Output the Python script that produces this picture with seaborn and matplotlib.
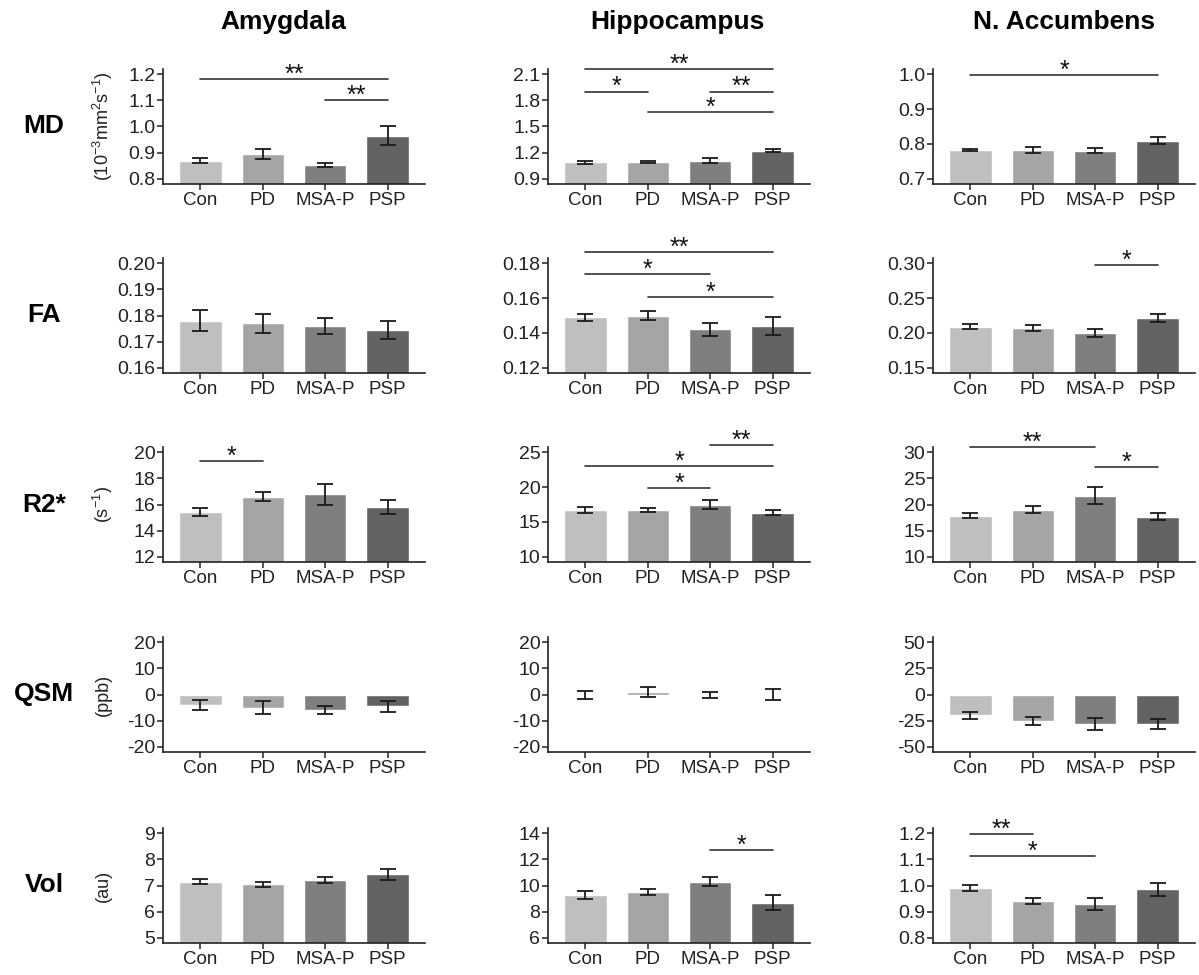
import pandas as pd
import seaborn as sns
import matplotlib
matplotlib.use("Agg")
import matplotlib.pyplot as plt

groups = ["Con", "PD", "MSA-P", "PSP"]
regions = ["Amygdala", "Hippocampus", "N. Accumbens"]
metrics = ["MD", "FA", "R2*", "QSM", "Vol"]
units = [r"(10$^{-3}$mm$^{2}$s$^{-1}$)", "", r"(s$^{-1}$)", "(ppb)", "(au)"]
palette = ["#bfbfbf", "#a5a5a5", "#7f7f7f", "#636363"]

# mean / SEM, one list per region: Amygdala, Hippocampus, N. Accumbens
md_mean = [[0.870, 0.895, 0.852, 0.965], [1.090, 1.095, 1.110, 1.225], [0.782, 0.782, 0.781, 0.809]]
md_sem = [[0.010, 0.020, 0.008, 0.035], [0.020, 0.015, 0.030, 0.020], [0.003, 0.008, 0.008, 0.010]]
fa_mean = [[0.178, 0.177, 0.176, 0.1745], [0.149, 0.150, 0.142, 0.144], [0.209, 0.207, 0.200, 0.221]]
fa_sem = [[0.004, 0.0035, 0.003, 0.0033], [0.002, 0.0025, 0.0035, 0.005], [0.004, 0.004, 0.006, 0.006]]
r2_mean = [[15.4, 16.6, 16.8, 15.8], [16.7, 16.7, 17.5, 16.3], [17.9, 19.0, 21.7, 17.7]]
r2_sem = [[0.3, 0.35, 0.8, 0.55], [0.4, 0.3, 0.6, 0.35], [0.4, 0.7, 1.6, 0.7]]
qsm_mean = [[-4.0, -5.0, -6.0, -4.5], [-0.2, 1.0, -0.1, 0.0], [-20.0, -25.0, -28.0, -28.0]]
qsm_sem = [[1.8, 2.5, 1.5, 2.2], [1.5, 1.8, 1.2, 2.0], [3.0, 4.0, 6.0, 5.0]]
vol_mean = [[7.15, 7.05, 7.22, 7.42], [9.3, 9.5, 10.3, 8.7], [0.99, 0.94, 0.93, 0.985]]
vol_sem = [[0.10, 0.10, 0.12, 0.20], [0.30, 0.25, 0.35, 0.60], [0.012, 0.012, 0.022, 0.025]]

# y tick labels per region
md_ticks = [["0.8", "0.9", "1.0", "1.1", "1.2"], ["0.9", "1.2", "1.5", "1.8", "2.1"], ["0.7", "0.8", "0.9", "1.0"]]
fa_ticks = [["0.16", "0.17", "0.18", "0.19", "0.20"], ["0.12", "0.14", "0.16", "0.18"], ["0.15", "0.20", "0.25", "0.30"]]
r2_ticks = [["12", "14", "16", "18", "20"], ["10", "15", "20", "25"], ["10", "15", "20", "25", "30"]]
qsm_ticks = [["-20", "-10", "0", "10", "20"], ["-20", "-10", "0", "10", "20"], ["-50", "-25", "0", "25", "50"]]
vol_ticks = [["5", "6", "7", "8", "9"], ["6", "8", "10", "12", "14"], ["0.8", "0.9", "1.0", "1.1", "1.2"]]

# significance bars: (region, from group, to group, height, stars)
md_sig = [(0, 0, 3, 1.18, "**"), (0, 2, 3, 1.10, "**"), (1, 0, 3, 2.157, "**"), (1, 0, 1, 1.90, "*"),
          (1, 2, 3, 1.90, "**"), (1, 1, 3, 1.67, "*"), (2, 0, 3, 0.997, "*")]
fa_sig = [(1, 0, 3, 0.1863, "**"), (1, 0, 2, 0.1739, "*"), (1, 1, 3, 0.1606, "*"), (2, 2, 3, 0.2976, "*")]
r2_sig = [(0, 0, 1, 19.3, "*"), (1, 2, 3, 25.95, "**"), (1, 0, 3, 23.0, "*"), (1, 1, 2, 19.8, "*"),
          (2, 0, 2, 31.0, "**"), (2, 2, 3, 27.1, "*")]
qsm_sig = []
vol_sig = [(1, 2, 3, 12.7, "*"), (2, 0, 1, 1.196, "**"), (2, 0, 2, 1.114, "*")]

means = [md_mean, fa_mean, r2_mean, qsm_mean, vol_mean]
sems = [md_sem, fa_sem, r2_sem, qsm_sem, vol_sem]
ticks = [md_ticks, fa_ticks, r2_ticks, qsm_ticks, vol_ticks]
sigs = [md_sig, fa_sig, r2_sig, qsm_sig, vol_sig]

sns.set_theme(style="ticks")
plt.rcParams["font.family"] = ["Liberation Sans", "DejaVu Sans"]
plt.rcParams["mathtext.default"] = "regular"
ink = "#222222"
plt.rcParams.update({"axes.edgecolor": ink, "axes.linewidth": 1.2, "xtick.color": ink, "ytick.color": ink,
                     "text.color": ink, "xtick.major.size": 4, "ytick.major.size": 4,
                     "xtick.major.width": 1.1, "ytick.major.width": 1.1,
                     "xtick.major.pad": 2, "ytick.major.pad": 1.5})

W, H = 1199, 975
fig = plt.figure(figsize=(W / 100, H / 100), dpi=100)

lefts = [163, 548, 933]
tops = [69, 258, 447, 637, 828]
aw, ah = 262, 115

for r, metric in enumerate(metrics):
    for c, region in enumerate(regions):
        ax = fig.add_axes([lefts[c] / W, 1 - (tops[r] + ah) / H, aw / W, ah / H])
        df = pd.DataFrame({"group": groups, "value": means[r][c]})
        sns.barplot(data=df, x="group", y="value", hue="group", palette=palette, saturation=1,
                    width=0.68, legend=False, errorbar=None, ax=ax)
        ax.errorbar(range(4), means[r][c], yerr=sems[r][c], fmt="none", ecolor="#1a1a1a",
                    elinewidth=1.3, capsize=6, capthick=1.3)
        tk = [float(t) for t in ticks[r][c]]
        span = tk[-1] - tk[0]
        ax.set_ylim(tk[0] - 0.048 * span, tk[-1] + 0.048 * span)
        ax.set_yticks(tk)
        ax.set_yticklabels(ticks[r][c], fontsize=14)
        ax.set_xlim(-0.6, 3.6)
        ax.tick_params(axis="x", labelsize=13.5)
        ax.set_xlabel("")
        ax.set_ylabel("")
        sns.despine(ax=ax)
        for reg, i, j, y, stars in sigs[r]:
            if reg != c:
                continue
            ax.plot([i, j], [y, y], color="#333333", lw=1.2, clip_on=False)
            ax.annotate(stars, xy=((i + j) / 2, y), xytext=(0, -2), textcoords="offset points",
                        ha="center", va="baseline", fontsize=18, color="#111111", annotation_clip=False)

    yc = 1 - (tops[r] + ah / 2) / H
    fig.text(44 / W, yc, metric, ha="center", va="center", fontsize=19, fontweight="bold", color="black")
    if units[r]:
        fig.text(103 / W, yc, units[r], ha="center", va="center", rotation=90, fontsize=13)

for x, region in zip([283, 677, 1064], regions):
    fig.text(x / W, 1 - 22 / H, region, ha="center", va="center", fontsize=19, fontweight="bold", color="black")

fig.savefig("out.png", dpi=100)
